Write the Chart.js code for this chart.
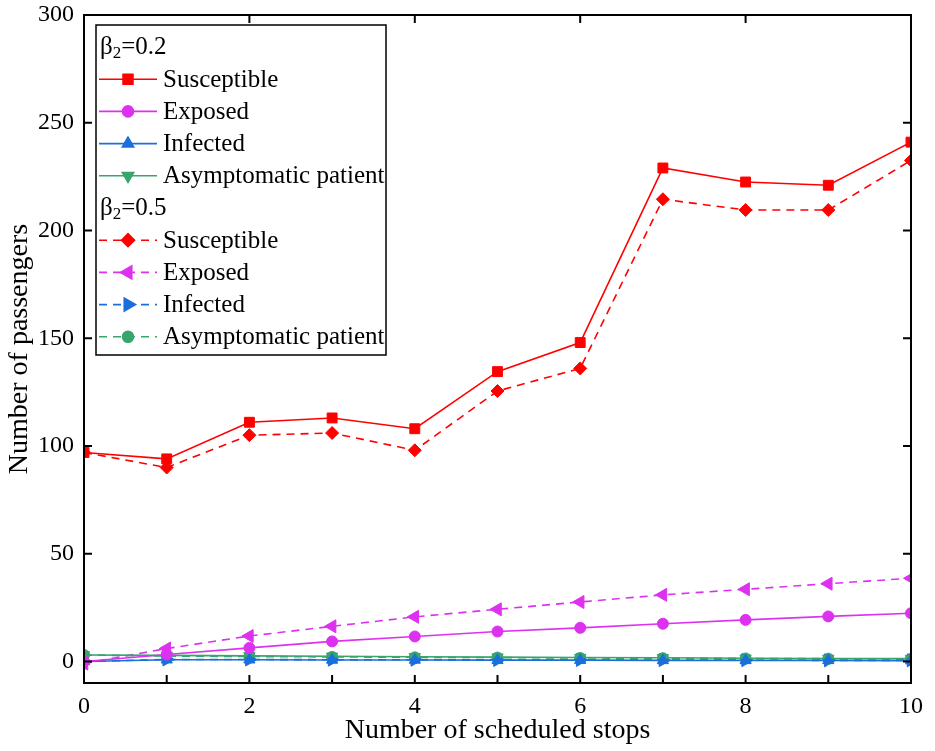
<!DOCTYPE html>
<html>
<head>
<meta charset="utf-8">
<script src="https://cdn.jsdelivr.net/npm/chart.js@4/dist/chart.umd.min.js"></script>
<style>
  html, body { margin: 0; padding: 0; background: #fff; }
  #wrap { width: 935px; height: 751px; }
</style>
</head>
<body>
<div id="wrap"><canvas id="seirChart"></canvas></div>
<script>
// number of scheduled stops
const stops = [0, 1, 2, 3, 4, 5, 6, 7, 8, 9, 10];
const xTicks = [0, 2, 4, 6, 8, 10];
const yTicks = [0, 50, 100, 150, 200, 250, 300];

// beta2 = 0.2
const susceptible02 = [97, 94, 111, 113, 108, 134.5, 148, 229, 222.5, 221, 241];
const exposed02 = [0, 3.2, 6.3, 9.3, 11.6, 13.9, 15.6, 17.5, 19.3, 20.9, 22.4];
const infected02 = [0, 0.8, 0.8, 0.7, 0.7, 0.6, 0.6, 0.5, 0.5, 0.5, 0.4];
const asymptomatic02 = [3, 2.8, 2.6, 2.4, 2.2, 2.0, 1.8, 1.7, 1.5, 1.4, 1.3];

// beta2 = 0.5
const susceptible05 = [97, 90, 105, 106, 98, 125.5, 136, 214.5, 209.5, 209.5, 232.5];
const exposed05 = [-1, 6, 11.8, 16.3, 20.7, 24.2, 27.6, 30.9, 33.5, 36.1, 38.6];
const infected05 = [0, 0.9, 0.9, 0.8, 0.8, 0.7, 0.7, 0.6, 0.6, 0.5, 0.5];
const asymptomatic05 = [3, 2.5, 2.3, 2.1, 1.9, 1.8, 1.6, 1.5, 1.4, 1.3, 1.2];

const RED = "#ff0000", MAG = "#dc32f0", BLUE = "#1a6fdc", GREEN = "#38a56c";
const SERIF = "'Liberation Serif', 'DejaVu Serif', serif";

function pts(arr) {
    return stops.map((s, i) => ({ x: s, y: arr[i] }));
}

function series(label, arr, color, style, rotation, radius, dashed) {
    return {
        label: label,
        data: pts(arr),
        borderColor: color,
        backgroundColor: color,
        borderWidth: 1.6,
        borderDash: dashed ? [8, 6] : [],
        pointStyle: style,
        rotation: rotation,
        pointRadius: radius,
        pointHoverRadius: radius,
        pointBorderWidth: 1,
        tension: 0
    };
}

const datasets = [
    series("Susceptible", susceptible02, RED, "rect", 0, 7, false),
    series("Exposed", exposed02, MAG, "circle", 0, 5.5, false),
    series("Infected", infected02, BLUE, "triangle", 0, 6.5, false),
    series("Asymptomatic patient", asymptomatic02, GREEN, "triangle", 180, 6.5, false),
    series("Susceptible", susceptible05, RED, "rectRot", 0, 6.5, true),
    series("Exposed", exposed05, MAG, "triangle", -90, 7.5, true),
    series("Infected", infected05, BLUE, "triangle", 90, 7.5, true),
    series("Asymptomatic patient", asymptomatic05, GREEN, "circle", 0, 5.5, true)
];

// box, inward ticks and grouped legend
const framePlugin = {
    id: "frame",
    afterDraw(chart) {
        const ctx = chart.ctx;
        const a = chart.chartArea;
        const xs = chart.scales.x, ys = chart.scales.y;
        ctx.save();
        ctx.strokeStyle = "#000";
        ctx.lineWidth = 2;
        ctx.setLineDash([]);
        ctx.strokeRect(a.left, a.top, a.right - a.left, a.bottom - a.top);

        const tl = 8;
        ctx.beginPath();
        stops.forEach(s => {
            const px = xs.getPixelForValue(s);
            ctx.moveTo(px, a.bottom); ctx.lineTo(px, a.bottom - tl);
        });
        xTicks.forEach(s => {
            const px = xs.getPixelForValue(s);
            ctx.moveTo(px, a.top); ctx.lineTo(px, a.top + tl);
        });
        yTicks.forEach(v => {
            const py = ys.getPixelForValue(v);
            ctx.moveTo(a.left, py); ctx.lineTo(a.left + tl, py);
            ctx.moveTo(a.right, py); ctx.lineTo(a.right - tl, py);
        });
        ctx.stroke();

        // legend
        const lx = 96, ly = 25, lw = 290, lh = 330;
        ctx.fillStyle = "#fff";
        ctx.fillRect(lx, ly, lw, lh);
        ctx.lineWidth = 1.5;
        ctx.strokeRect(lx, ly, lw, lh);

        ctx.textBaseline = "middle";
        const rowH = 32.2;
        let y = 47;
        const header = (val) => {
            ctx.fillStyle = "#000";
            ctx.font = "25px " + SERIF;
            ctx.fillText("\u03b2", 100, y);
            const bw = ctx.measureText("\u03b2").width;
            ctx.font = "17px " + SERIF;
            ctx.fillText("2", 100 + bw, y + 7);
            const sw = ctx.measureText("2").width;
            ctx.font = "25px " + SERIF;
            ctx.fillText("=" + val, 100 + bw + sw, y);
            y += rowH;
        };
        const item = (ds) => {
            ctx.strokeStyle = ds.borderColor;
            ctx.lineWidth = ds.borderWidth;
            ctx.setLineDash(ds.borderDash);
            ctx.beginPath();
            ctx.moveTo(99, y); ctx.lineTo(157, y);
            ctx.stroke();
            ctx.setLineDash([]);
            ctx.fillStyle = ds.borderColor;
            Chart.helpers.drawPoint(ctx, {
                pointStyle: ds.pointStyle,
                rotation: ds.rotation,
                radius: ds.pointRadius,
                borderWidth: 1
            }, 128, y);
            ctx.fillStyle = "#000";
            ctx.font = "25px " + SERIF;
            ctx.fillText(ds.label, 163, y + 1);
            y += rowH;
        };
        header("0.2");
        for (let i = 0; i < 4; i++) item(datasets[i]);
        header("0.5");
        for (let i = 4; i < 8; i++) item(datasets[i]);
        ctx.restore();
    }
};

document.addEventListener("DOMContentLoaded", function () {
    let ctx = document.getElementById("seirChart").getContext("2d");

    new Chart(ctx, {
        type: "line",
        data: { datasets: datasets },
        options: {
            responsive: true,
            maintainAspectRatio: false,
            animation: false,
            layout: { padding: { top: 15, right: 24, left: 0, bottom: 0 } },
            plugins: {
                legend: { display: false },
                tooltip: { enabled: false }
            },
            scales: {
                x: {
                    type: "linear",
                    min: 0,
                    max: 10,
                    grid: { display: false, drawTicks: false },
                    border: { display: false },
                    afterBuildTicks: s => { s.ticks = xTicks.map(v => ({ value: v })); },
                    afterFit: s => { s.height = 68; s.paddingLeft = 0; s.paddingRight = 0; },
                    ticks: {
                        color: "#000",
                        padding: 9,
                        maxRotation: 0,
                        font: { family: SERIF, size: 24 }
                    },
                    title: {
                        display: true,
                        text: "Number of scheduled stops",
                        color: "#000",
                        padding: { top: 0, bottom: 4 },
                        font: { family: SERIF, size: 28 }
                    }
                },
                y: {
                    min: -10,
                    max: 300,
                    grid: { display: false, drawTicks: false },
                    border: { display: false },
                    afterBuildTicks: s => { s.ticks = yTicks.map(v => ({ value: v })); },
                    afterFit: s => { s.width = 84; s.paddingTop = 0; s.paddingBottom = 0; },
                    ticks: {
                        color: "#000",
                        padding: 10,
                        font: { family: SERIF, size: 24 }
                    },
                    title: {
                        display: true,
                        text: "Number of passengers",
                        color: "#000",
                        padding: { top: 3, bottom: 4 },
                        font: { family: SERIF, size: 28 }
                    }
                }
            }
        },
        plugins: [framePlugin]
    });
});
</script>
</body>
</html>
